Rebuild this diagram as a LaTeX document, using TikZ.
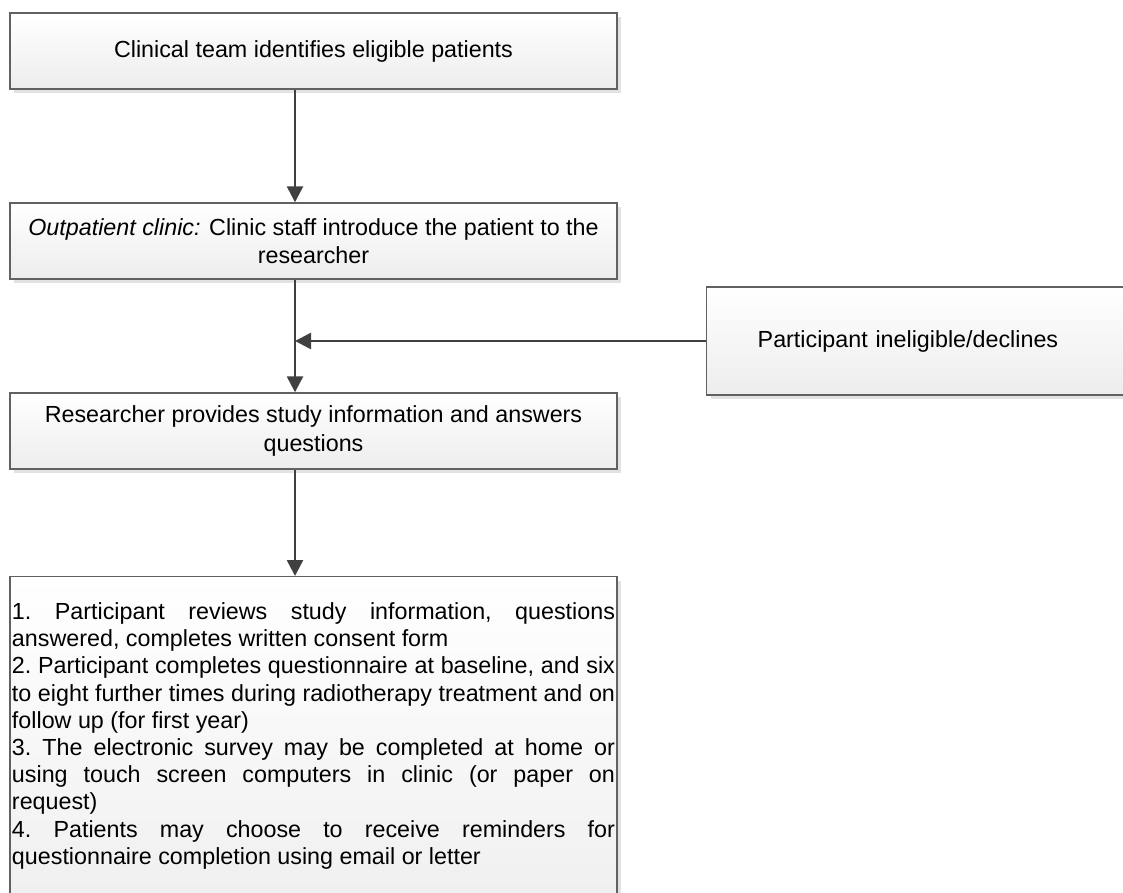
\documentclass[tikz,border=0pt]{standalone}
\usepackage{fontspec}
\setmainfont{Liberation Sans}
\usetikzlibrary{arrows.meta,shadows}
\definecolor{boxline}{HTML}{616161}
\definecolor{boxfill}{HTML}{EDEDED}
\definecolor{boxshade}{HTML}{E2E2E2}
\definecolor{flowline}{HTML}{404040}

\begin{document}
\begin{tikzpicture}[x=1pt,y=-1pt,>={Triangle[width=16pt,length=16pt]},font=\fontsize{23.3}{28.5}\selectfont]
  \tikzstyle{stepbox}=[draw=boxline,line width=1.4pt,top color=white,bottom color=boxfill,
    drop shadow={shadow xshift=4pt,shadow yshift=-4pt,fill=boxshade,opacity=1},
    minimum width=607pt,minimum height=76pt,align=center,inner sep=2pt]
  \tikzstyle{flow}=[->,draw=flowline,line width=2.5pt]
\clip (0,0) rectangle (1123,892);
\coordinate (spine) at (295,0);
\node[stepbox] (identify) at (313.5,51) {Clinical team identifies eligible patients};
\node[stepbox] (introduce) at (313.5,241) {\textit{Outpatient clinic:} Clinic staff introduce the patient to the\\researcher};
\node[stepbox] (inform) at (313.5,431) {Researcher provides study information and answers\\questions};
\node[stepbox,anchor=west,minimum width=0pt,minimum height=108pt,text width=380pt,
  align=left,inner xsep=51pt] (declines) at (706,341) {Participant ineligible/declines};
\node[stepbox,anchor=north,minimum height=0pt,text width=603pt,align=justify,inner ysep=26pt,
  font=\fontsize{23.3}{27.2}\selectfont\frenchspacing\setlength\parindent{0pt}] (consent) at (313.5,576)
  {1. Participant reviews study information, questions\linebreak answered, completes written consent form\par
   2. Participant completes questionnaire at baseline, and six\linebreak to eight further times during radiotherapy treatment and on\linebreak follow up (for first year)\par
   3. The electronic survey may be completed at home or\linebreak using touch screen computers in clinic (or paper on\linebreak request)\par
   4. Patients may choose to receive reminders for\linebreak questionnaire completion using email or letter\par\vspace*{40pt}\mbox{}};
\path
(identify.south -| spine) edge[flow] (introduce.north -| spine)
(introduce.south -| spine) edge[flow] (inform.north -| spine)
(declines.west) edge[flow] (declines.west -| spine)
(inform.south -| spine) edge[flow] (consent.north -| spine);
\end{tikzpicture}
\end{document}
